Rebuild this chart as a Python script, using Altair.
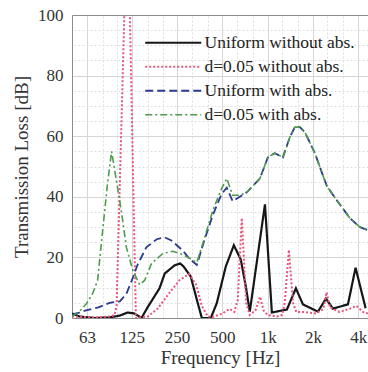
import altair as alt
import pandas as pd

series_names = ["Uniform without abs.", "d=0.05 without abs.", "Uniform with abs.", "d=0.05 with abs."]

# Uniform without abs. (black solid)
black_f = [50, 56, 71, 89, 104, 117, 130, 145, 159, 191, 207, 241, 262, 276, 308, 338, 365, 419, 459, 527, 596,
           663, 716, 761, 960, 1067, 1343, 1542, 1717, 2161, 2443, 2719, 3421, 3845, 4486]
black_db = [1.5, 0.5, 0.0, 0.2, 0.8, 1.8, 1.5, 0.0, 3.5, 9.8, 14.7, 17.4, 18.0, 17.0, 13.7, 6.1, 0.0, 0.0, 4.9, 17.0, 24.0,
            19.3, 10.4, 2.1, 37.5, 1.8, 2.8, 9.8, 4.5, 2.1, 6.4, 3.1, 4.5, 16.6, 3.2]

# d=0.05 without abs. (red dotted)
red_f = [50, 70, 90, 96, 99, 117, 133, 145, 160, 185, 220, 260, 300, 335, 365, 400, 430, 500, 560, 600, 633, 673,
         720, 760, 830, 890, 940, 1000, 1150, 1250, 1300, 1385, 1475, 1550, 1750, 2100, 2350, 2465, 2600, 3000,
         3500, 3900, 4300, 4651]
red_db = [0.5, 0.2, 0.5, 1.0, 4.0, 140.0, 0.0, 0.3, 0.5, 3.0, 8.0, 12.5, 14.5, 11.0, 4.0, 0.5, 0.3, 1.5, 3.0, 2.0, 6.0, 33.0,
          5.0, 1.0, 2.5, 7.0, 2.5, 1.0, 0.5, 1.0, 5.0, 22.5, 5.0, 2.0, 2.0, 1.5, 3.0, 8.5, 3.5, 2.0,
          3.0, 4.0, 2.0, 1.5]

# Uniform with abs. (blue dashed)
blue_f = [50, 56, 62, 75, 89, 104, 115, 125, 136, 156, 183, 207, 229, 272, 303, 338, 376, 432, 495, 535, 586, 653,
          727, 888, 1003, 1117, 1263, 1406, 1518, 1639, 1770, 2063, 2333, 2480, 2891, 3530, 4114, 4651]
blue_db = [1.2, 1.8, 2.5, 3.5, 5.0, 5.5, 8.0, 12.4, 17.4, 23.3, 26.0, 26.6, 25.6, 22.3, 19.5, 17.5, 25.0, 34.0, 41.0, 43.0, 38.5, 40.0,
           41.5, 46.0, 53.0, 54.4, 53.0, 59.7, 63.0, 63.0, 61.3, 54.4, 47.0, 43.5, 38.8, 32.9, 30.0, 29.0]

# d=0.05 with abs. (green dash-dot)
green_f = [50, 56, 62.5, 68.5, 74, 80, 86, 91.7, 99, 107, 115, 127, 141, 152, 169, 201, 234, 272, 303, 338, 376,
           432, 495, 535, 586, 653, 727, 888, 1003, 1117, 1263, 1406, 1518, 1639, 1770, 2063, 2333, 2480, 2891,
           3530, 4114, 4651]
green_db = [0.5, 2.1, 4.8, 8.0, 12.4, 29.0, 44.0, 55.0, 45.0, 34.5, 23.3, 15.7, 11.0, 12.4, 18.0, 21.3, 22.0, 21.0, 19.7, 18.3, 25.6,
            35.5, 42.8, 46.0, 40.5, 40.5, 41.5, 46.0, 53.0, 54.4, 53.0, 59.7, 63.0, 63.0, 61.3, 54.4, 47.0, 43.5, 38.8,
            32.9, 30.0, 29.0]

major_ticks = [63, 125, 250, 500, 1000, 2000, 4000]
third_octave = [50, 63, 80, 100, 125, 160, 200, 250, 315, 400, 500, 630, 800, 1000, 1250, 1600, 2000, 2500, 3150, 4000]
y_major = [0, 20, 40, 60, 80, 100]
y_minor = list(range(0, 101, 5))

colors = ["#161616", "#e8557a", "#2b3990", "#4e9a4e"]
dashes = [[1, 0], [2, 2], [8, 4], [7, 3, 2, 3]]
widths = [2.2, 1.6, 2.0, 1.8]

rows = []
for name, fs, ds in zip(series_names, [black_f, red_f, blue_f, green_f], [black_db, red_db, blue_db, green_db]):
    for f, d in zip(fs, ds):
        rows.append({"series": name, "f": f, "db": d})
df = pd.DataFrame(rows)

font = "Liberation Serif"
x_scale = alt.Scale(type="log", domain=[50, 4651], nice=False)
y_scale = alt.Scale(domain=[0, 100], nice=False, zero=False)

grid = alt.Chart(df).mark_line(opacity=0).encode(
    x=alt.X("f:Q", scale=x_scale,
            axis=alt.Axis(orient="top", values=third_octave, grid=True, gridColor="#e0e0e0", gridDash=[2, 2],
                          labels=False, ticks=False, domain=True, domainColor="#8c8c8c", title=None)),
    y=alt.Y("db:Q", scale=y_scale,
            axis=alt.Axis(orient="right", values=y_minor, grid=True, gridColor="#e0e0e0", gridDash=[2, 2],
                          labels=False, ticks=False, domain=False, title=None)),
)

legend = alt.Legend(
    title=None, orient="none", legendX=92.5, legendY=19, padding=0,
    symbolType="M-5.6,0H5.6", symbolSize=100, symbolOffset=0,
    labelOffset=22.5, rowPadding=5, labelFont=font, labelFontSize=17.5, labelColor="#222",
    labelLimit=300,
)

lines = alt.Chart(df).mark_line(clip=True).encode(
    x=alt.X("f:Q", scale=x_scale,
            axis=alt.Axis(values=major_ticks,
                          labelExpr="datum.value >= 1000 ? (datum.value / 1000) + 'k' : '' + datum.value",
                          grid=True, gridColor="#d6d6d6", ticks=False, domainColor="#8c8c8c",
                          labelFont=font, labelFontSize=17, labelColor="#333", labelPadding=11,
                          title="Frequency [Hz]", titleFont=font, titleFontSize=19, titleFontWeight="normal",
                          titleColor="#333", titlePadding=3)),
    y=alt.Y("db:Q", scale=y_scale,
            axis=alt.Axis(values=y_major, grid=True, gridColor="#d6d6d6", ticks=False, domainColor="#8c8c8c",
                          labelFont=font, labelFontSize=17, labelColor="#333", labelPadding=9,
                          title="Transmission Loss [dB]", titleFont=font, titleFontSize=19,
                          titleFontWeight="normal", titleColor="#333", titlePadding=6)),
    color=alt.Color("series:N", scale=alt.Scale(domain=series_names, range=colors), legend=legend),
    strokeDash=alt.StrokeDash("series:N", scale=alt.Scale(domain=series_names, range=dashes), legend=legend),
    strokeWidth=alt.StrokeWidth("series:N", scale=alt.Scale(domain=series_names, range=widths), legend=legend),
)

chart = alt.layer(grid, lines).resolve_axis(x="independent", y="independent").properties(
    width=296, height=303,
    padding={"left": 72, "top": 15, "right": 0, "bottom": 54},
    autosize=alt.AutoSizeParams(type="none"),
    background="white",
).configure_view(stroke=None)

chart.save("out.html", embed_options={"renderer": "svg", "actions": False})
